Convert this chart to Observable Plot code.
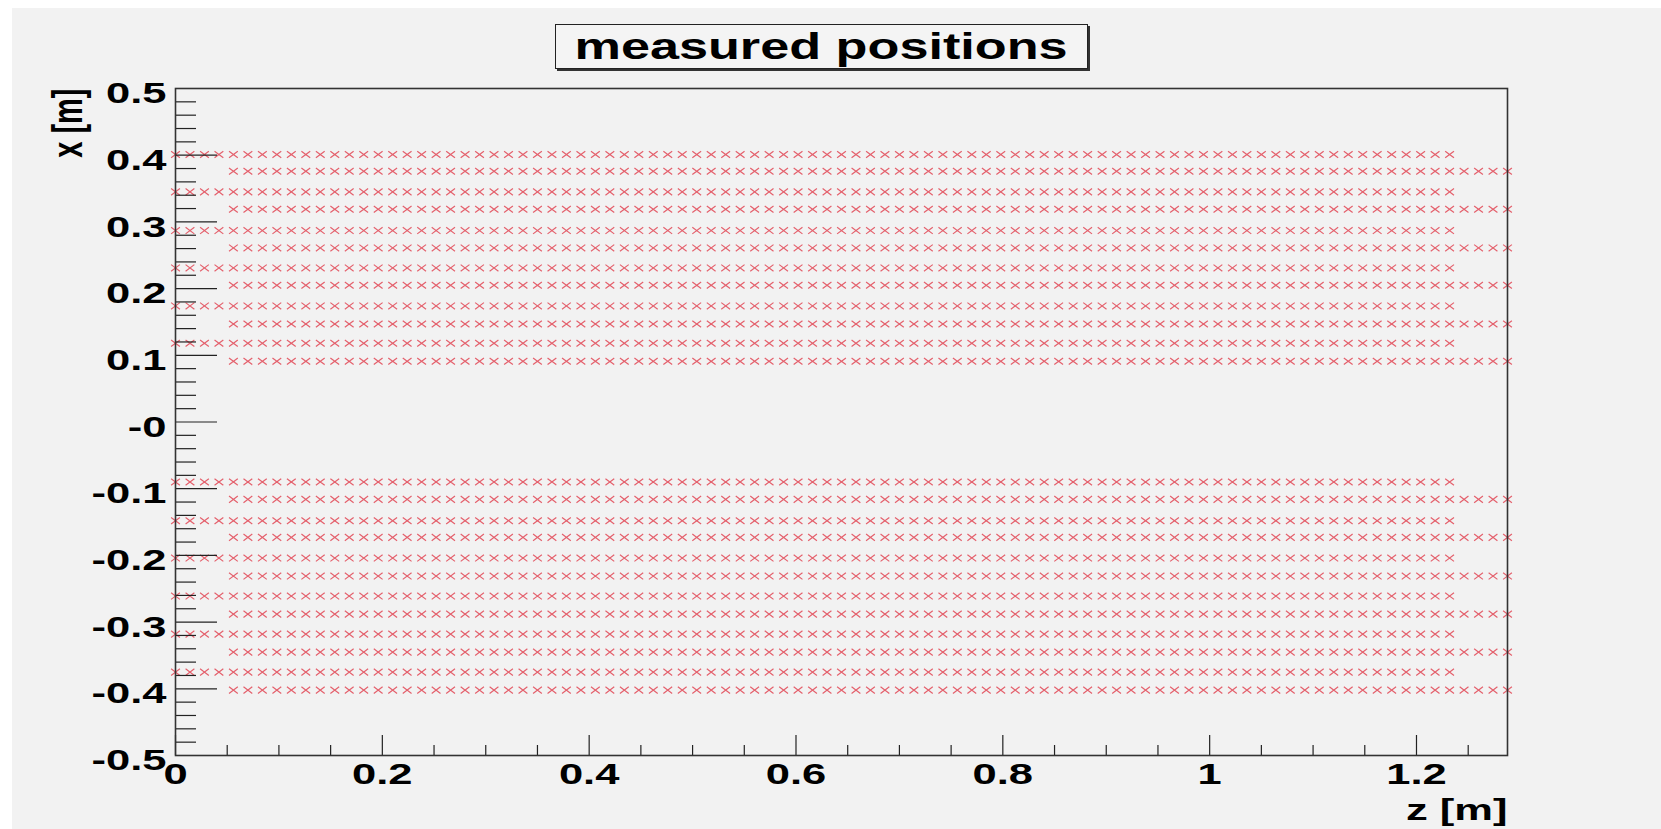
<!DOCTYPE html>
<html>
<head>
<meta charset="utf-8">
<script src="https://cdn.jsdelivr.net/npm/d3@7"></script>
<script src="https://cdn.jsdelivr.net/npm/@observablehq/plot@0.6"></script>
<style>
  html, body { margin: 0; padding: 0; background: #ffffff; }
  #canvas { position: absolute; left: 12px; top: 8px; width: 1649px; height: 821px; background: #f2f2f2; overflow: hidden; }
  #title-row { position: relative; height: 68px; }
  #title-box { position: absolute; left: 543px; top: 16px; width: 531px; height: 43px; border: 1px solid #222; box-shadow: 2px 2px 0 #333; background: #f4f4f4; display: flex; align-items: center; justify-content: center; }
  #title-box span { display: inline-block; white-space: nowrap; font-family: 'Liberation Sans', Arial, sans-serif; font-weight: bold; font-size: 36px; line-height: 36px; transform: scaleX(1.45); color: #000; }
  #chart svg { display: block; }
</style>
</head>
<body>
<div id="canvas">
  <div id="title-row"><div id="title-box"><span>measured positions</span></div></div>
  <div id="chart"></div>
</div>
<script>
// ---- data ----
// z positions [m] of the markers in rows that start at z = 0
const zLong = [0, 0.014, 0.028, 0.042, 0.056, 0.07, 0.084, 0.098, 0.112, 0.126, 0.14, 0.154, 0.168, 0.182, 0.196, 0.21, 0.224, 0.238, 0.252, 0.266, 0.28, 0.294, 0.308, 0.322, 0.336, 0.35, 0.364, 0.378, 0.392, 0.406, 0.42, 0.434, 0.448, 0.462, 0.476, 0.49, 0.504, 0.518, 0.532, 0.546, 0.56, 0.574, 0.588, 0.602, 0.616, 0.63, 0.644, 0.658, 0.672, 0.686, 0.7, 0.714, 0.728, 0.742, 0.756, 0.77, 0.784, 0.798, 0.812, 0.826, 0.84, 0.854, 0.868, 0.882, 0.896, 0.91, 0.924, 0.938, 0.952, 0.966, 0.98, 0.994, 1.008, 1.022, 1.036, 1.05, 1.064, 1.078, 1.092, 1.106, 1.12, 1.134, 1.148, 1.162, 1.176, 1.19, 1.204, 1.218, 1.232];
// z positions [m] of the markers in the shifted rows
const zOffset = [0.056, 0.07, 0.084, 0.098, 0.112, 0.126, 0.14, 0.154, 0.168, 0.182, 0.196, 0.21, 0.224, 0.238, 0.252, 0.266, 0.28, 0.294, 0.308, 0.322, 0.336, 0.35, 0.364, 0.378, 0.392, 0.406, 0.42, 0.434, 0.448, 0.462, 0.476, 0.49, 0.504, 0.518, 0.532, 0.546, 0.56, 0.574, 0.588, 0.602, 0.616, 0.63, 0.644, 0.658, 0.672, 0.686, 0.7, 0.714, 0.728, 0.742, 0.756, 0.77, 0.784, 0.798, 0.812, 0.826, 0.84, 0.854, 0.868, 0.882, 0.896, 0.91, 0.924, 0.938, 0.952, 0.966, 0.98, 0.994, 1.008, 1.022, 1.036, 1.05, 1.064, 1.078, 1.092, 1.106, 1.12, 1.134, 1.148, 1.162, 1.176, 1.19, 1.204, 1.218, 1.232, 1.246, 1.26, 1.274, 1.288];
// x positions [m] of the rows
const rowsLong = [0.401, 0.345, 0.287, 0.231, 0.174, 0.118, -0.090, -0.148, -0.204, -0.261, -0.318, -0.375];
const rowsOffset = [0.376, 0.319, 0.261, 0.205, 0.147, 0.091, -0.116, -0.173, -0.231, -0.288, -0.345, -0.402];

// axes
const xDomain = [0, 1.288];
const yDomain = [-0.5, 0.5];
const xMajor = [0, 0.2, 0.4, 0.6, 0.8, 1.0, 1.2];
const xTickLabels = ["0", "0.2", "0.4", "0.6", "0.8", "1", "1.2"];
const xMinor = [0.05, 0.1, 0.15, 0.25, 0.3, 0.35, 0.45, 0.5, 0.55, 0.65, 0.7, 0.75, 0.85, 0.9, 0.95, 1.05, 1.1, 1.15, 1.25];
const yMajor = [0.5, 0.4, 0.3, 0.2, 0.1, 0, -0.1, -0.2, -0.3, -0.4, -0.5];
const yTickLabels = ["0.5", "0.4", "0.3", "0.2", "0.1", "-0", "-0.1", "-0.2", "-0.3", "-0.4", "-0.5"];
const yMinor = [0.48, 0.46, 0.44, 0.42, 0.38, 0.36, 0.34, 0.32, 0.28, 0.26, 0.24, 0.22, 0.18, 0.16, 0.14, 0.12, 0.08, 0.06, 0.04, 0.02,
  -0.02, -0.04, -0.06, -0.08, -0.12, -0.14, -0.16, -0.18, -0.22, -0.24, -0.26, -0.28, -0.32, -0.34, -0.36, -0.38, -0.42, -0.44, -0.46, -0.48];
const title = "measured positions";
const xTitle = "z [m]";
const yTitle = "x [m]";

// ---- build table ----
const points = [];
for (const r of rowsLong) for (const z of zLong) points.push({z, x: r});
for (const r of rowsOffset) for (const z of zOffset) points.push({z, x: r});

const W = 1649, H = 753;
const mL = 163, mR = 154, mT = 12, mB = 74;
const plotW = W - mL - mR, plotH = H - mT - mB;

const crossSymbol = {
  draw(ctx) {
    const hw = 4.4, hh = 3.3;
    ctx.moveTo(-hw, -hh); ctx.lineTo(hw, hh);
    ctx.moveTo(-hw, hh); ctx.lineTo(hw, -hh);
  }
};

const font = "'Liberation Sans', Arial, Helvetica, sans-serif";

const chart = Plot.plot({
  width: W, height: H,
  marginLeft: mL, marginRight: mR, marginTop: mT, marginBottom: mB,
  x: {domain: xDomain, axis: null},
  y: {domain: yDomain, axis: null},
  style: {background: "transparent", fontFamily: font},
  marks: [
    Plot.dot(points, {x: "z", y: "x", symbol: crossSymbol, stroke: "#e4606c", fill: "none", strokeWidth: 1.2}),
    Plot.tickY(yMinor, {y: d => d, insetRight: plotW - 21, stroke: "#222", strokeWidth: 1.2}),
    Plot.tickY(yMajor, {y: d => d, insetRight: plotW - 42, stroke: "#222", strokeWidth: 1.2}),
    Plot.tickX(xMinor, {x: d => d, insetTop: plotH - 10, stroke: "#222", strokeWidth: 1.2}),
    Plot.tickX(xMajor, {x: d => d, insetTop: plotH - 20, stroke: "#222", strokeWidth: 1.2}),
    Plot.frame({stroke: "#333", strokeWidth: 1.6}),
    Plot.text(yMajor, {y: d => d, text: (d, i) => yTickLabels[i], frameAnchor: "left", textAnchor: "end", lineAnchor: "middle", dx: -9, dy: 5, fontSize: 30, fontWeight: "bold", fill: "#000"}),
    Plot.text(xMajor, {x: d => d, text: (d, i) => xTickLabels[i], frameAnchor: "bottom", textAnchor: "middle", lineAnchor: "middle", dy: 19, fontSize: 30, fontWeight: "bold", fill: "#000"}),
    Plot.text([xTitle], {text: d => d, frameAnchor: "bottom-right", textAnchor: "end", lineAnchor: "middle", dy: 55, fontSize: 30, fontWeight: "bold", fill: "#000"}),
    Plot.text([yTitle], {text: d => d, frameAnchor: "top-left", textAnchor: "end", lineAnchor: "bottom", rotate: -90, dx: -94, dy: 0, fontSize: 42, fontWeight: "bold", fill: "#000"})
  ]
});

document.getElementById("chart").appendChild(chart);

// horizontally stretched lettering, as in the reference (ROOT picture was widened)
chart.querySelectorAll("text").forEach(t => {
  const w = t.getComputedTextLength();
  const rotated = /rotate/.test(t.getAttribute("transform") || "");
  const k = rotated ? 0.69 : 1.45;
  t.setAttribute("textLength", (w * k).toFixed(1));
  t.setAttribute("lengthAdjust", "spacingAndGlyphs");
});
</script>
</body>
</html>
